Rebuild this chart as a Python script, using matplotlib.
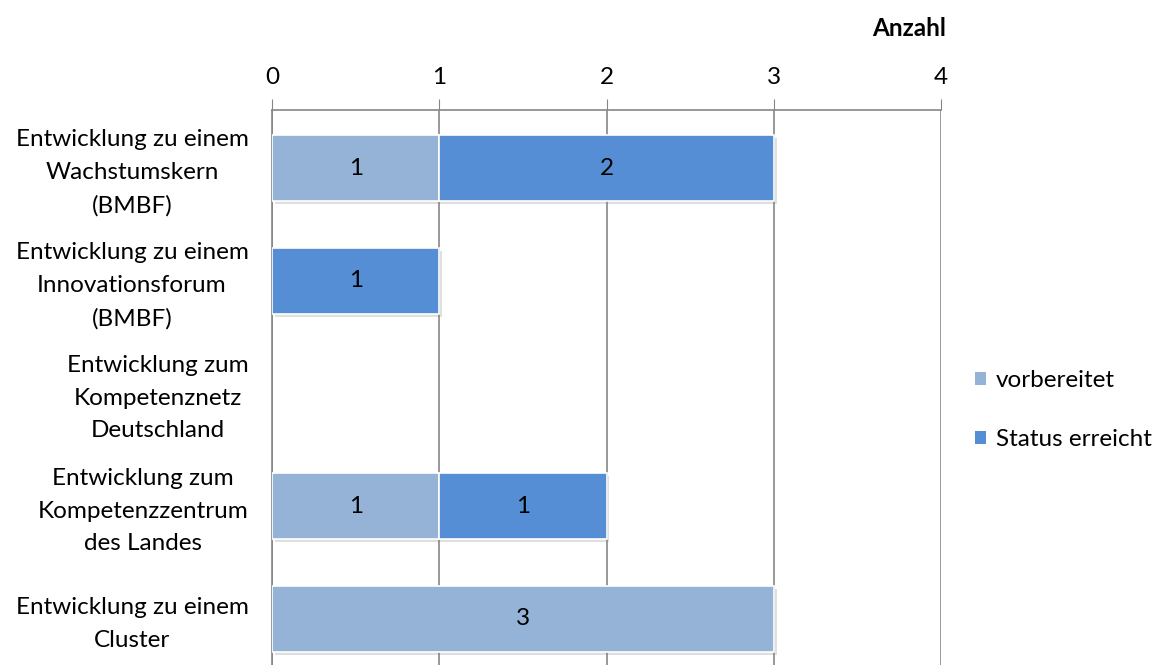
import matplotlib
matplotlib.use("Agg")
import matplotlib.pyplot as plt
import matplotlib.patheffects as pe
import numpy as np

categories = [
    "Entwicklung zu einem\nWachstumskern\n(BMBF)",
    "Entwicklung zu einem\nInnovationsforum\n(BMBF)",
    "Entwicklung zum\nKompetenznetz\nDeutschland",
    "Entwicklung zum\nKompetenzzentrum\ndes Landes",
    "Entwicklung zu einem\nCluster",
]
vorbereitet = [1, 0, 0, 1, 3]
status_erreicht = [2, 1, 0, 1, 0]
series_names = ["vorbereitet", "Status erreicht"]
colors = ["#95B3D7", "#558ED5"]
xticks = [0, 1, 2, 3, 4]
axis_title = "Anzahl"

plt.rcParams['font.family'] = ['Lato', 'DejaVu Sans']
FS = 17.5

fig = plt.figure(figsize=(11.56, 6.65), dpi=100)
ax = fig.add_axes([272/1156, -0.0325, (941-272)/1156, 0.867])

y = np.arange(len(categories))
shadow = [pe.SimplePatchShadow(offset=(2, -2), alpha=0.25, shadow_rgbFace='gray'), pe.Normal()]

left = np.zeros(len(categories))
for vals, name, col in zip([vorbereitet, status_erreicht], series_names, colors):
    vals = np.array(vals, dtype=float)
    bars = ax.barh(y, vals, left=left, height=0.585, color=col, edgecolor='white',
                   linewidth=1.2, label=name, zorder=3)
    for b, v in zip(bars, vals):
        if v > 0:
            b.set_path_effects(shadow)
            ax.text(b.get_x() + b.get_width()/2, b.get_y() + b.get_height()/2, f"{int(v)}",
                    ha='center', va='center', fontsize=FS, color='black', zorder=4)
        else:
            b.set_visible(False)
    left = left + vals

ax.set_xlim(0, 4)
ax.set_ylim(4.6, -0.514)
ax.xaxis.tick_top()
ax.set_xticks(xticks)
ax.set_xticklabels([str(t) for t in xticks], fontsize=FS)
ax.tick_params(axis='x', which='both', length=8, color='#868686', pad=8)
ax.set_yticks(y)
ax.set_yticklabels(categories, fontsize=FS, multialignment='center', linespacing=1.68)
ax.tick_params(axis='y', length=0, pad=17)
for lbl in ax.get_yticklabels():
    lbl.set_transform(lbl.get_transform() + matplotlib.transforms.ScaledTranslation(0, 3/100, fig.dpi_scale_trans))
ax.grid(axis='x', color='#868686', linewidth=1.2, zorder=0)
ax.set_axisbelow(True)
for s in ['right', 'bottom']:
    ax.spines[s].set_visible(False)
ax.spines['left'].set_color('#868686')
ax.spines['top'].set_color('#868686')
ax.spines['left'].set_linewidth(1.2)
ax.spines['top'].set_linewidth(1.2)

fig.text(946/1156, 1 - 28/665, axis_title, ha='right', va='center', fontsize=FS, fontweight='bold')

handles = [plt.Rectangle((0, 0), 1, 1, facecolor=c, edgecolor='none') for c in colors]
leg = fig.legend(handles, series_names, loc='center left', bbox_to_anchor=(975/1156, 1 - 410/665),
                 frameon=False, fontsize=FS, handlelength=0.45, handleheight=0.45,
                 handletextpad=0.4, labelspacing=1.55, borderaxespad=0, borderpad=0)

fig.savefig("out.png", dpi=100)
